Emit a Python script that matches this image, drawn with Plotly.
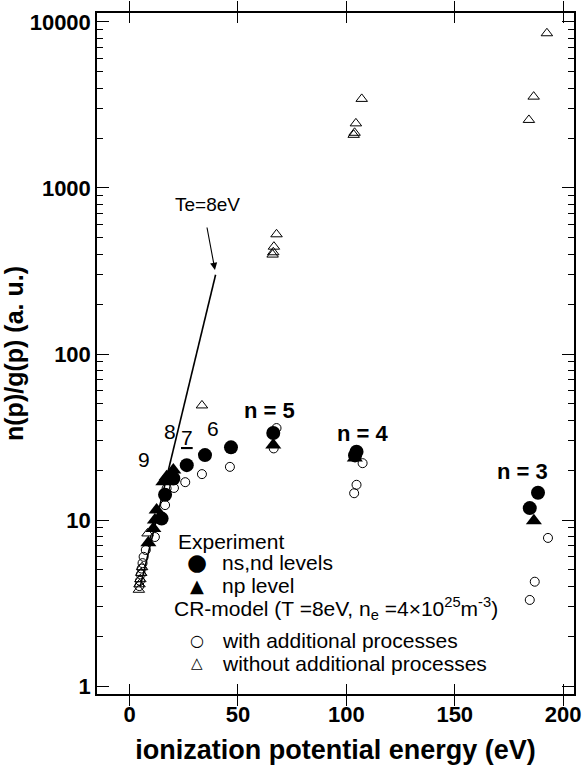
import numpy as np
import plotly.graph_objects as go

# ---------------- data ----------------
# Experiment: ns,nd levels (filled circles)
exp_snd_x = [14.8, 16.4, 20.2, 26.4, 34.8, 46.8, 66.3, 104.7, 104.0, 188.4, 184.6]
exp_snd_y = [10.2, 14.2, 17.8, 21.4, 24.6, 27.4, 33.4, 25.8, 24.5, 14.6, 11.8]

# Experiment: np level (filled triangles)
exp_p_x = [8.7, 11.0, 11.7, 12.5, 15.6, 17.1, 20.2, 66.3, 103.9, 186.5]
exp_p_y = [7.3, 8.9, 10.0, 11.5, 17.0, 18.2, 20.0, 28.3, 23.6, 9.9]

# CR-model with additional processes (open circles)
cr_with_x = [4.5, 4.8, 5.2, 5.6, 6.0, 6.5, 7.5, 11.7, 16.4, 17.1, 20.5, 25.7,
             33.4, 46.3, 67.8, 66.5, 107.5, 104.7, 103.6, 193.0, 186.9, 184.6]
cr_with_y = [4.0, 4.3, 4.7, 5.1, 5.5, 6.0, 6.6, 7.9, 12.3, 15.5, 15.6, 16.9,
             18.9, 20.9, 35.8, 27.0, 22.0, 16.3, 14.5, 7.8, 4.25, 3.3]

# CR-model without additional processes (open triangles)
cr_without_x = [4.3, 4.6, 5.0, 5.4, 5.8, 8.3, 33.4, 66.0, 66.3, 66.6, 67.8,
                103.4, 103.8, 104.4, 107.1, 184.2, 186.4, 192.5]
cr_without_y = [3.8, 4.1, 4.4, 4.8, 5.2, 8.3, 49, 397, 410, 443, 526,
                2090, 2150, 2450, 3440, 2570, 3550, 8550]

# Boltzmann line Te = 8 eV
te_line_x = [5.0, 39.7]
te_line_y = [4.0, 300.0]

# level labels
label_text = ["9", "8", "<u>7</u>", "6"]
label_x = [6.7, 18.7, 26.5, 38.5]
label_y = [23.0, 33.9, 31.6, 35.8]

n_text = ["n = 5", "n = 4", "n = 3"]
n_x = [64.7, 107.6, 181.3]
n_y = [45.4, 33.4, 19.5]

# Te label and arrow (tail -> head)
te_label_x, te_label_y = 36.0, 790.0
arrow_tail = (35.6, 590.0)
arrow_head = (39.4, 321.0)

x_ticks = [0, 50, 100, 150, 200]
y_ticks = [1, 10, 100, 1000, 10000]
y_minor = [m * 10 ** d for d in range(0, 4) for m in range(2, 10)]

# legend entries (drawn as text)
legend_exp_title = "Experiment"
legend_exp_items = [("●", "ns,nd levels"), ("▲", "np level")]
legend_cr_title = "CR-model (T =8eV, n<sub>e</sub> =4×10<sup>25</sup>m<sup>-3</sup>)"
legend_cr_items = [("○", "with additional processes"), ("△", "without additional processes")]

FONT = "Liberation Sans, Arial, Helvetica, sans-serif"
SYMFONT = "DejaVu Sans"
W, H = 588, 770
ML, MR, MT, MB = 97, 14, 13, 76
PW, PH = W - ML - MR, H - MT - MB


def px(xp):
    return (xp - ML) / PW


def py(yp):
    return (H - MB - yp) / PH


fig = go.Figure()

fig.add_trace(go.Scatter(
    x=te_line_x, y=te_line_y, mode="lines",
    line=dict(color="black", width=1.6), showlegend=False, hoverinfo="skip"))

fig.add_trace(go.Scatter(
    x=cr_without_x, y=cr_without_y, mode="markers",
    marker=dict(symbol="triangle-up-open", size=10, color="black", line=dict(width=1)),
    name="without additional processes", showlegend=False))

fig.add_trace(go.Scatter(
    x=cr_with_x, y=cr_with_y, mode="markers",
    marker=dict(symbol="circle-open", size=9, color="black", line=dict(width=1)),
    name="with additional processes", showlegend=False))

fig.add_trace(go.Scatter(
    x=exp_p_x, y=exp_p_y, mode="markers",
    marker=dict(symbol="triangle-up", size=14, color="black"),
    name="np level", showlegend=False))

fig.add_trace(go.Scatter(
    x=exp_snd_x, y=exp_snd_y, mode="markers", yaxis="y2",
    marker=dict(symbol="circle", size=14, color="black"),
    name="ns,nd levels", showlegend=False))

annotations = []
for t, x, y in zip(label_text, label_x, label_y):
    annotations.append(dict(x=x, y=np.log10(y), xref="x", yref="y", text=t,
                            showarrow=False, font=dict(size=21, family=FONT, color="black")))
for t, x, y in zip(n_text, n_x, n_y):
    annotations.append(dict(x=x, y=np.log10(y), xref="x", yref="y", text=t,
                            showarrow=False,
                            font=dict(size=22, family=FONT, color="black", weight="bold")))
annotations.append(dict(x=te_label_x, y=np.log10(te_label_y), xref="x", yref="y",
                        text="Te=8eV", showarrow=False,
                        font=dict(size=19, family=FONT, color="black")))
annotations.append(dict(x=arrow_head[0], y=np.log10(arrow_head[1]), xref="x", yref="y",
                        ax=arrow_tail[0], ay=np.log10(arrow_tail[1]),
                        axref="x", ayref="y", text="", showarrow=True,
                        arrowhead=2, arrowsize=1.3, arrowwidth=1.1, arrowcolor="black"))

# legend block
LEG_FS = 21
row_y = [541, 562, 585, 608, 640, 663]
title_x = [176, 172]
sym_x, text_x = 197, 220
sym_sizes = {"●": 23, "▲": 18, "○": 16, "△": 15}


def leg_text(x, y, t):
    annotations.append(dict(x=px(x), y=py(y), xref="paper", yref="paper", text=t,
                            xanchor="left", yanchor="middle", showarrow=False,
                            font=dict(size=LEG_FS, family=FONT, color="black")))


def leg_sym(x, y, s):
    annotations.append(dict(x=px(x), y=py(y), xref="paper", yref="paper", text=s,
                            xanchor="center", yanchor="middle", showarrow=False,
                            font=dict(size=sym_sizes[s], family=SYMFONT, color="black")))


leg_text(title_x[0], row_y[0], legend_exp_title)
for i, (s, t) in enumerate(legend_exp_items):
    leg_sym(sym_x, row_y[1 + i], s)
    leg_text(text_x, row_y[1 + i], t)
leg_text(title_x[1], row_y[3], legend_cr_title)
for i, (s, t) in enumerate(legend_cr_items):
    leg_sym(sym_x, row_y[4 + i], s)
    leg_text(text_x, row_y[4 + i], t)

fig.update_layout(
    width=W, height=H,
    margin=dict(l=ML, r=MR, t=MT, b=MB, autoexpand=False),
    paper_bgcolor="white", plot_bgcolor="white",
    font=dict(family=FONT, color="black"),
    annotations=annotations,
    showlegend=False,
)

fig.update_xaxes(
    range=[-15, 205], tickvals=x_ticks, ticktext=[str(v) for v in x_ticks],
    ticks="inside", ticklen=10, tickwidth=1.3, tickcolor="black",
    showline=True, linewidth=1.5, linecolor="black", mirror="allticks",
    showgrid=False, zeroline=False, automargin=False,
    tickfont=dict(size=22, family=FONT, weight="bold"),
    title=dict(text="ionization potential energy (eV)",
               font=dict(size=27, family=FONT, weight="bold"), standoff=14),
)

yaxis_common = dict(
    type="log", range=[-0.048, 4.054],
    tickvals=y_ticks,
    ticks="inside", ticklen=12, tickwidth=1.3, tickcolor="black",
    minor=dict(tickvals=y_minor, ticks="inside", ticklen=6, tickwidth=1.2,
               tickcolor="black", showgrid=False),
    showline=True, linewidth=1.5, linecolor="black",
    showgrid=False, zeroline=False, automargin=False,
)

fig.update_layout(
    yaxis=dict(**yaxis_common, mirror=True,
               ticktext=[str(v) for v in y_ticks],
               tickfont=dict(size=22, family=FONT, weight="bold"),
               title=dict(text="n(p)/g(p) (a. u.)",
                          font=dict(size=25, family=FONT, weight="bold"), standoff=2)),
    yaxis2=dict(**yaxis_common, overlaying="y", side="right", showticklabels=False),
)

fig.write_html("out.html")
